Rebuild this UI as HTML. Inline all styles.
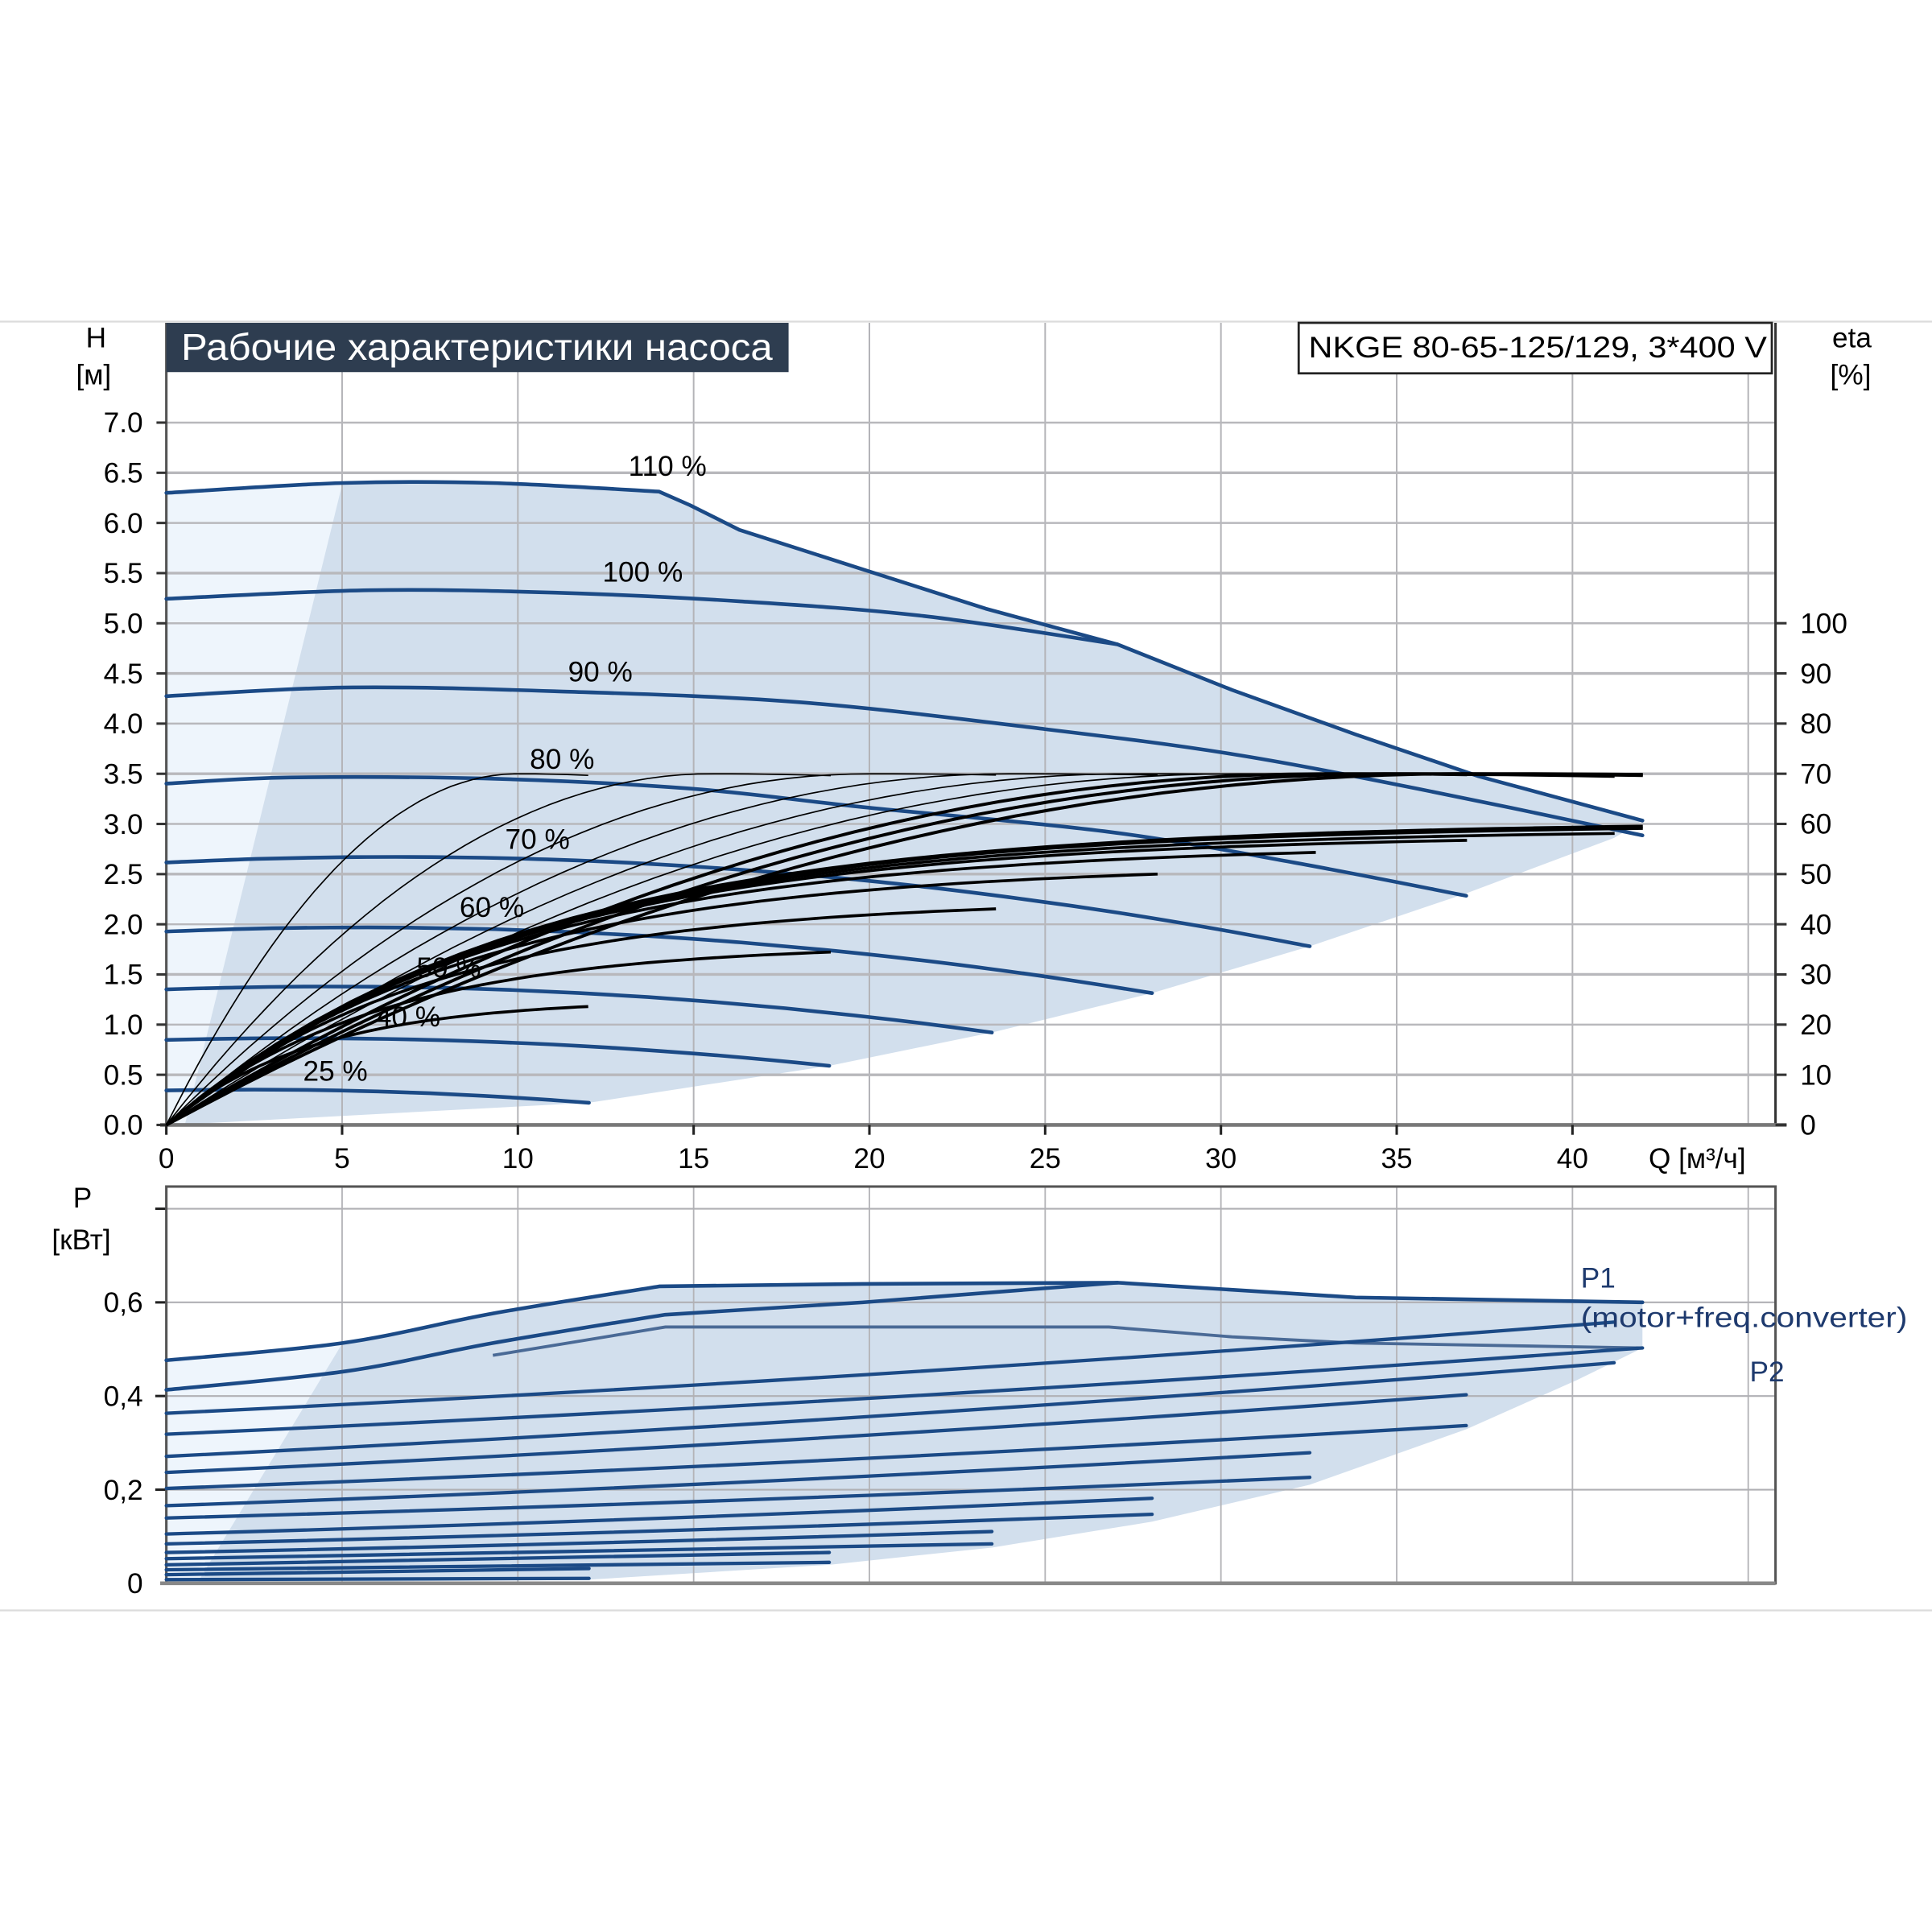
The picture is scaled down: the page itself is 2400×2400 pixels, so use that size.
<!DOCTYPE html>
<html><head><meta charset="utf-8">
<style>
html,body{margin:0;padding:0;background:#fff;}
svg{display:block;}
text{font-family:"Liberation Sans","DejaVu Sans",sans-serif;}
</style></head>
<body>
<svg id="s" xmlns="http://www.w3.org/2000/svg" width="2400" height="2400" viewBox="0 0 1568 1568">
<rect width="1568" height="1568" fill="#fff"/>
<line x1="0" y1="261" x2="1568" y2="261" stroke="#dcdcdc" stroke-width="1.5"/>
<line x1="0" y1="1307" x2="1568" y2="1307" stroke="#dcdcdc" stroke-width="1.5"/>
<g id="shade"></g>
<g id="grid"></g>
<g id="curves"></g>
<g id="txt" font-size="23" fill="#000"></g>
</svg>
<script>
var NS="http://www.w3.org/2000/svg";
function el(p,t,a,txt){var e=document.createElementNS(NS,t);for(var k in a)e.setAttribute(k,a[k]);if(txt!==undefined)e.textContent=txt;document.getElementById(p).appendChild(e);return e;}
function X(q){return 135+28.53*q;}
function Y(h){return 913-81.43*h;}
function YE(e){return 913-4.072*e;}
function PY(p){return 1285-380*p;}
function cr(pts){var d="M"+pts[0][0].toFixed(1)+","+pts[0][1].toFixed(1);
 for(var i=0;i<pts.length-1;i++){var p0=pts[i-1]||pts[i],p1=pts[i],p2=pts[i+1],p3=pts[i+2]||p2;
 var c1=[p1[0]+(p2[0]-p0[0])/6,p1[1]+(p2[1]-p0[1])/6],c2=[p2[0]-(p3[0]-p1[0])/6,p2[1]-(p3[1]-p1[1])/6];
 d+=" C"+c1[0].toFixed(1)+","+c1[1].toFixed(1)+" "+c2[0].toFixed(1)+","+c2[1].toFixed(1)+" "+p2[0].toFixed(1)+","+p2[1].toFixed(1);}
 return d;}
function pl(pts){return "M"+pts.map(function(p){return p[0].toFixed(1)+","+p[1].toFixed(1)}).join(" L");}

// ---------- shading upper ----------
var envA=[[135,400],[278,392],[400,392],[535,399]];
var envB=[[535,399],[560,410],[600,430],[700,462],[800,494],[907,523],[1000,560],[1100,596],[1200,630],[1333,666]];
var bottom=[[1333,666],[1310,680],[1190,725],[1063,768],[935,806],[805,838],[673,865],[478,895],[140,913],[135,913]];
el("shade","path",{d:cr(envA)+" "+pl(envB).replace("M","L")+" L"+bottom.map(function(p){return p.join(",")}).join(" L")+" Z",fill:"#d2dfed"});
el("shade","path",{d:"M135,400 L278,392 L150,913 L135,913 Z",fill:"#eef5fc"});
// lower shading
var penvA=[[135,1104],[278,1090],[400,1066],[535,1044]];
var penvB=[[535,1044],[700,1042],[907,1041],[1100,1053],[1333,1057]];
var pbot=[[1333,1094],[1280,1120],[1190,1160],[1063,1205],[935,1235],[805,1256],[673,1270],[478,1282],[135,1285]];
el("shade","path",{d:cr(penvA)+" "+pl(penvB).replace("M","L")+" L"+pbot.map(function(p){return p.join(",")}).join(" L")+" Z",fill:"#d2dfed"});
el("shade","path",{d:"M135,1104 L278,1090 L160,1285 L135,1285 Z",fill:"#eef5fc"});

// ---------- grid upper ----------
for(var q=5;q<=45;q+=5){el("grid","line",{x1:X(q),y1:262,x2:X(q),y2:913,stroke:"#b4b4b8","stroke-width":1.3});}
for(var h=0.5;h<=7.01;h+=0.5){el("grid","line",{x1:135,y1:Y(h),x2:1441,y2:Y(h),stroke:"#b8b8bc","stroke-width":(Math.round(h*2)%2?2.2:1.6)});}
el("grid","line",{x1:135,y1:262,x2:135,y2:913,stroke:"#555","stroke-width":2});
el("grid","line",{x1:1441,y1:262,x2:1441,y2:913,stroke:"#333","stroke-width":2});
el("grid","line",{x1:130,y1:913,x2:1450,y2:913,stroke:"#777","stroke-width":3});
for(var h=0;h<=7.01;h+=0.5){el("grid","line",{x1:127,y1:Y(h),x2:135,y2:Y(h),stroke:"#333","stroke-width":2});}
for(var e=0;e<=100;e+=10){el("grid","line",{x1:1441,y1:YE(e),x2:1450,y2:YE(e),stroke:"#333","stroke-width":2});}
for(var q=0;q<=40;q+=5){el("grid","line",{x1:X(q),y1:913,x2:X(q),y2:921,stroke:"#222","stroke-width":2});}
// grid lower
for(var q=5;q<=45;q+=5){el("grid","line",{x1:X(q),y1:963,x2:X(q),y2:1285,stroke:"#b4b4b8","stroke-width":1.2});}
[0.2,0.4,0.6,0.8].forEach(function(p){el("grid","line",{x1:135,y1:PY(p),x2:1441,y2:PY(p),stroke:"#b0b0b4","stroke-width":1.4});
 el("grid","line",{x1:126,y1:PY(p),x2:135,y2:PY(p),stroke:"#222","stroke-width":2});});
el("grid","rect",{x:135,y:963,width:1306,height:322,fill:"none",stroke:"#555","stroke-width":2});
el("grid","line",{x1:130,y1:1285,x2:1441,y2:1285,stroke:"#888","stroke-width":3});

// ---------- pump curves ----------
var blue="#1b4a86";
function bl(pts,w){el("curves","path",{d:cr(pts),fill:"none",stroke:blue,"stroke-width":w||3,"stroke-linecap":"round"});}
function bp(d,w){el("curves","path",{d:d,fill:"none",stroke:blue,"stroke-width":w||3,"stroke-linecap":"round","stroke-linejoin":"round"});}
bp(cr(envA)+" "+pl(envB).replace("M","L"),3);
bl([[135,486],[300,479],[450,481],[600,488],[750,500],[907,523]]);
bl([[135,565],[280,558],[450,561],[650,570],[850,592],[1000,612],[1150,640],[1333,678]]);
bl([[135,636],[235,631],[400,632],[560,640],[700,655],[899,675],[1050,700],[1190,727]]);
function quadPump(y0,xe,ye){var pts=[],qe=xe-135,qp=0.2*qe,D=ye-y0,c2=D/(0.6*qe*qe);
 for(var i=0;i<=12;i++){var x=qe*i/12;var y=y0+c2*(x*x-2*qp*x);pts.push([135+x,y]);}return pts;}
bl(quadPump(700,1063,768));bl(quadPump(756,935,806));bl(quadPump(803,805,838));bl(quadPump(844,673,865));bl(quadPump(885,478,895));

// ---------- efficiency curves ----------
function ec(f,qe,w){var pts=[];for(var i=0;i<=40;i++){var q=qe*i/40;pts.push([X(q),YE(f(q))]);}
 el("curves","path",{d:pl(pts),fill:"none",stroke:"#000","stroke-width":w,"stroke-linejoin":"round"});}
var thin=[[10,12],[15.5,18.9],[20,23.6],[24,28.2],[27.5,32.7],[30.5,37],[33,41.2],[35,42],[37,42]];
thin.forEach(function(t,i){var qp=t[0];ec(function(q){var x=q/qp;return x<=1?70*(1-(1-x)*(1-x)):70-8*(x-1)*(x-1);},t[1],i>=6?2.6:1.1);});
var thick=[[25,12],[36,18.9],[45,23.6],[52,28.2],[56,32.7],[58,37],[59,41.2],[60,42],[60.5,42]];
thick.forEach(function(t){var em=t[0],tau=em/6;ec(function(q){return em*(1-Math.exp(-q/tau));},t[1],2.4);});

// ---------- power curves ----------
bp(cr(penvA)+" "+pl(penvB).replace("M","L"),3);
bp(cr([[135,1128],[280,1113],[400,1090],[540,1067]])+" L700,1057 L907,1041",3);
el("curves","path",{d:pl([[400,1100],[540,1077],[900,1077],[1000,1085],[1100,1090],[1333,1094]]),fill:"none",stroke:"#4a6a96","stroke-width":2.5});
var pl2=[[1147,1310,1073],[1164,1333,1094],[1182,1310,1106],[1195,1190,1132],[1208,1190,1157],[1222,1063,1179],[1232,1063,1199],[1245,935,1216],[1253,935,1229],[1260,805,1243],[1265,805,1253],[1270,673,1260],[1274,673,1268],[1278,478,1273],[1282,478,1281]];
pl2.forEach(function(p){var x0=135,y0=p[0],x1=p[1],y1=p[2];var cx=(x0+x1)/2,cy=(y0+y1)/2+(y0-y1)*0.12;
 el("curves","path",{d:"M"+x0+","+y0+" Q"+cx+","+cy+" "+x1+","+y1,fill:"none",stroke:blue,"stroke-width":2.8,"stroke-linecap":"round"});});

// ---------- text ----------
function t(x,y,s,a){var o={x:x,y:y};for(var k in a)o[k]=a[k];return el("txt","text",o,s);}
[["7.0",7],["6.5",6.5],["6.0",6],["5.5",5.5],["5.0",5],["4.5",4.5],["4.0",4],["3.5",3.5],["3.0",3],["2.5",2.5],["2.0",2],["1.5",1.5],["1.0",1],["0.5",0.5],["0.0",0]].forEach(function(v){t(116,Y(v[1])+8,v[0],{"text-anchor":"end"});});
for(var e=0;e<=100;e+=10){t(1461,YE(e)+8,String(e));}
for(var q=0;q<=40;q+=5){t(X(q),948,String(q),{"text-anchor":"middle"});}
t(1338,948,"Q [м³/ч]");
t(78,282,"H",{"text-anchor":"middle"});t(76,312,"[м]",{"text-anchor":"middle"});
t(1503,282,"eta",{"text-anchor":"middle"});t(1502,312,"[%]",{"text-anchor":"middle"});
t(67,980,"P",{"text-anchor":"middle"});t(66,1014,"[кВт]",{"text-anchor":"middle"});
t(116,1065,"0,6",{"text-anchor":"end"});t(116,1141,"0,4",{"text-anchor":"end"});t(116,1217,"0,2",{"text-anchor":"end"});t(116,1293,"0",{"text-anchor":"end"});
t(1283,1045,"P1",{fill:"#1e3a6e"});t(1283,1077,"(motor+freq.converter)",{fill:"#1e3a6e",textLength:265,lengthAdjust:"spacingAndGlyphs"});t(1420,1121,"P2",{fill:"#1e3a6e"});
[["110 %",510,386],["100 %",489,472],["90 %",461,553],["80 %",430,624],["70 %",410,689],["60 %",373,744],["50 %",338,793],["40 %",305,833],["25 %",246,877]].forEach(function(v){t(v[1],v[2],v[0]);});
// title boxes
el("txt","rect",{x:135,y:262,width:505,height:40,fill:"#2e3d50"});
t(147,292,"Рабочие характеристики насоса",{fill:"#fff","font-size":30,textLength:480,lengthAdjust:"spacingAndGlyphs"});
el("txt","rect",{x:1054,y:262,width:384,height:41,fill:"#fff",stroke:"#222","stroke-width":1.8});
t(1062,290,"NKGE 80-65-125/129, 3*400 V",{"font-size":24,textLength:372,lengthAdjust:"spacingAndGlyphs"});
</script>
</body></html>
